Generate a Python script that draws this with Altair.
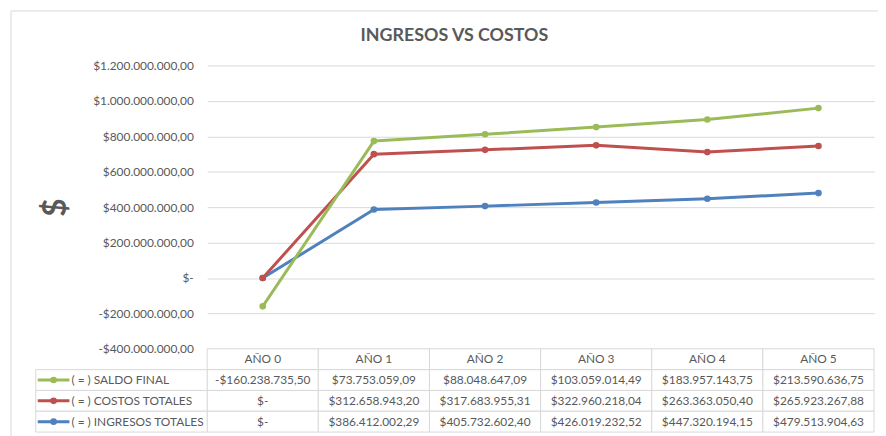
import altair as alt
import pandas as pd

# ---- data ----
anios = ["AÑO 0", "AÑO 1", "AÑO 2", "AÑO 3", "AÑO 4", "AÑO 5"]
saldo_final = [-160238735.50, 73753059.09, 88048647.09, 103059014.49, 183957143.75, 213590636.75]
costos_totales = [0.0, 312658943.20, 317683955.31, 322960218.04, 263363050.40, 265923267.88]
ingresos_totales = [0.0, 386412002.29, 405732602.40, 426019232.52, 447320194.15, 479513904.63]

series = ["( = ) SALDO FINAL", "( = ) COSTOS TOTALES", "( = ) INGRESOS TOTALES"]
colores = ["#9BBB59", "#C0504D", "#4F81BD"]
y_ticks = [-400000000, -200000000, 0, 200000000, 400000000, 600000000,
           800000000, 1000000000, 1200000000]
titulo = "INGRESOS VS COSTOS"
titulo_y = "$"

TXT = "#595959"
GRID = "#d9d9d9"
FONT = "Lato"


def fmt(v):
    if v == 0:
        return "$-"
    s = f"{abs(v):,.2f}".replace(",", "~").replace(".", ",").replace("~", ".")
    return ("-$" if v < 0 else "$") + s


valores = {series[0]: saldo_final, series[1]: costos_totales, series[2]: ingresos_totales}
# stacked-line order (Excel "line stacked"): ingresos at bottom, then costos, then saldo
orden = {series[2]: 1, series[1]: 2, series[0]: 3}

rows = []
for s in [series[2], series[1], series[0]]:
    for a, v in zip(anios, valores[s]):
        rows.append({"anio": a, "serie": s, "orden": orden[s], "valor": v})
df_series = pd.DataFrame(rows)

filas = ["header"] + series
tabla = [{"fila": "header", "anio": a, "texto": a} for a in anios]
for s in series:
    for a, v in zip(anios, valores[s]):
        tabla.append({"fila": s, "anio": a, "texto": fmt(v)})
df_tabla = pd.DataFrame(tabla)
df_labels = pd.DataFrame({"fila": series, "serie": series})

# ---- encodings ----
x_enc = alt.X("anio:N", scale=alt.Scale(domain=anios, paddingInner=0, paddingOuter=0), axis=None)
color_enc = alt.Color("serie:N", scale=alt.Scale(domain=series, range=colores), legend=None)

label_expr = (
    "datum.value == 0 ? '$-\u00a0\u00a0' : (datum.value < 0 ? '-$' : '$') + "
    "replace(replace(replace(format(abs(datum.value), ',.2f'), regexp(',', 'g'), '~'), "
    "regexp('[.]', 'g'), ','), regexp('~', 'g'), '.')"
)

y_main = alt.Y(
    "acum:Q",
    scale=alt.Scale(domain=[-400000000, 1200000000], range=[286, 0], nice=False, zero=False),
    axis=alt.Axis(
        values=y_ticks, labelExpr=label_expr, title=titulo_y, grid=True,
        gridColor=GRID, gridWidth=1, ticks=False, domain=False,
        labelFont=FONT, labelFontSize=12, labelColor=TXT, labelPadding=14,
        titleFont=FONT, titleFontSize=32, titleFontWeight="bold", titleColor=TXT,
        titleAngle=270, titleX=-153, titleY=143, titleAlign="center", titleBaseline="middle",
    ),
)

lines = (
    alt.Chart(df_series)
    .transform_window(acum="sum(valor)", groupby=["anio"], sort=[alt.SortField("orden")], frame=[None, 0])
    .mark_line(strokeWidth=3, strokeCap="round", strokeJoin="round",
               point=alt.OverlayMarkDef(filled=True, size=45, opacity=1))
    .encode(x=x_enc, y=y_main, color=color_enc)
)

y_tab = alt.Y("fila:N", scale=alt.Scale(domain=filas, range=[286, 370], paddingInner=0, paddingOuter=0),
              axis=None)
y_tab_c = alt.Y("fila:N", scale=alt.Scale(domain=filas, range=[286, 370], paddingInner=0, paddingOuter=0),
                axis=None, bandPosition=0.5)

celdas = alt.Chart(df_tabla).mark_rect(fill="white", stroke=GRID, strokeWidth=1).encode(x=x_enc, y=y_tab)
textos = alt.Chart(df_tabla).mark_text(font=FONT, fontSize=12, color=TXT, baseline="middle").encode(
    x=x_enc, y=y_tab_c, text="texto:N")
lab_rect = alt.Chart(df_labels).mark_rect(fill="white", stroke=GRID, strokeWidth=1).encode(
    x=alt.value(-173), x2=alt.value(0), y=y_tab)
key_rule = alt.Chart(df_labels).mark_rule(strokeWidth=3).encode(
    x=alt.value(-171), x2=alt.value(-139), y=y_tab_c, color=color_enc)
key_point = alt.Chart(df_labels).mark_point(filled=True, size=45, opacity=1).encode(
    x=alt.value(-155), y=y_tab_c, color=color_enc)
key_text = alt.Chart(df_labels).mark_text(font=FONT, fontSize=12, color=TXT, align="left",
                                          baseline="middle").encode(
    x=alt.value(-137), y=y_tab_c, text="serie:N")

tabla_layer = alt.layer(celdas, textos, lab_rect, key_rule, key_point, key_text)

borde = pd.DataFrame({"b": [1]})
borde_top = alt.Chart(borde).mark_rule(color=GRID, strokeWidth=1).encode(
    x=alt.value(-198), x2=alt.value(700), y=alt.value(-55))
borde_left = alt.Chart(borde).mark_rule(color=GRID, strokeWidth=1).encode(
    x=alt.value(-198), y=alt.value(-55), y2=alt.value(400))

chart = (
    alt.layer(lines, tabla_layer, borde_top, borde_left)
    .resolve_scale(y="independent")
    .properties(
        width=673, height=370,
        title=alt.TitleParams(titulo, anchor="middle", frame="group", dx=-87, dy=50, offset=15,
                              fontSize=18, font=FONT, fontWeight="bold", color=TXT),
        autosize=alt.AutoSizeParams(type="none"),
        padding={"left": 201, "top": 56, "right": 4, "bottom": 2},
        background="white",
    )
    .configure_view(stroke=None)
)

chart.save("out.html", embed_options={"renderer": "svg", "actions": False})
